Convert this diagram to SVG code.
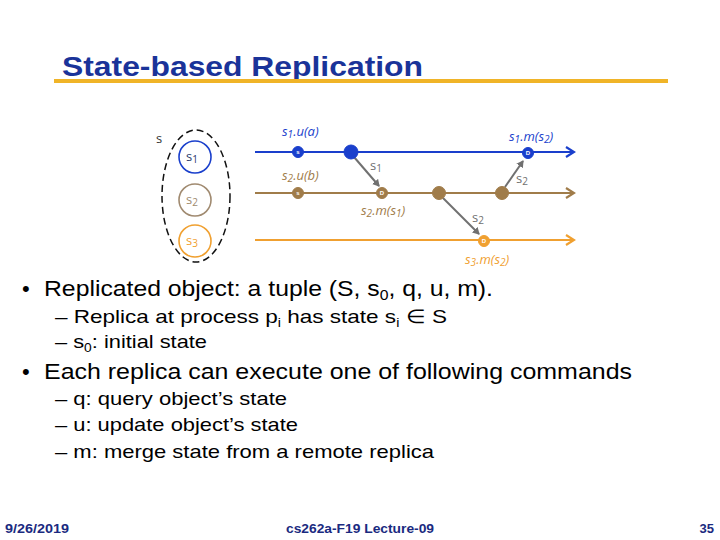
<svg xmlns="http://www.w3.org/2000/svg" width="720" height="540" viewBox="0 0 720 540">
<style>
.title{font-family:"Liberation Sans",Arial,sans-serif;font-weight:bold;font-size:28px;fill:#1a3399}
.b1{font-family:"Liberation Sans",Arial,sans-serif;font-size:22px;fill:#000}
.b2{font-family:"Liberation Sans",Arial,sans-serif;font-size:19px;fill:#000}
.foot{font-family:"Liberation Sans",Arial,sans-serif;font-weight:bold;font-size:13px;fill:#1a2a80}
.lbl{font-family:"Open Sans","Liberation Sans",sans-serif;font-style:italic;font-size:13px}
.st{font-family:"Open Sans","Liberation Sans",sans-serif;font-size:13px}
.tiny{font-family:"Liberation Sans",sans-serif;font-size:6px;font-weight:bold;fill:#fff;text-anchor:middle}
.blue{fill:#1a3fcc;stroke:#1a3fcc}
.brown{fill:#a07c4a;stroke:#a07c4a}
.orange{fill:#f0a030;stroke:#f0a030}
.line{stroke-width:2.2;fill:none}
.msg{stroke:#707070;stroke-width:2;fill:none;marker-end:url(#ag)}
</style>
<defs>
<marker id="ag" markerWidth="8" markerHeight="8" refX="6" refY="4" orient="auto" markerUnits="userSpaceOnUse"><path d="M0,0 L7,4 L0,8 z" fill="#707070"/></marker>
<marker id="ab" markerWidth="12" markerHeight="12" refX="10" refY="6" orient="auto" markerUnits="userSpaceOnUse"><path d="M2,1 L10,6 L2,11" fill="none" stroke="#1a3fcc" stroke-width="2.2"/></marker>
<marker id="abr" markerWidth="12" markerHeight="12" refX="10" refY="6" orient="auto" markerUnits="userSpaceOnUse"><path d="M2,1 L10,6 L2,11" fill="none" stroke="#a07c4a" stroke-width="2.2"/></marker>
<marker id="ao" markerWidth="12" markerHeight="12" refX="10" refY="6" orient="auto" markerUnits="userSpaceOnUse"><path d="M2,1 L10,6 L2,11" fill="none" stroke="#f0a030" stroke-width="2.2"/></marker>
</defs>
<rect width="720" height="540" fill="#fff"/>
<g id="title">
<text class="title" x="62" y="76" textLength="361" lengthAdjust="spacingAndGlyphs">State-based Replication</text>
<line x1="54" y1="81" x2="668" y2="81" stroke="#f0b428" stroke-width="4"/>
</g>
<g id="stateset">
<text class="st" x="156" y="143" fill="#333">s</text>
<ellipse cx="196" cy="196" rx="34" ry="66" fill="none" stroke="#111" stroke-width="1.5" stroke-dasharray="7,4"/>
<g id="s1"><circle cx="195" cy="157" r="16" fill="none" stroke="#1a3fcc" stroke-width="1.6"/><text class="st" x="186" y="161" fill="#2a3a6a">s<tspan font-size="10" dy="2">1</tspan></text></g>
<g id="s2"><circle cx="195" cy="200" r="16" fill="none" stroke="#a08a70" stroke-width="1.6"/><text class="st" x="186" y="204" fill="#a08a70">s<tspan font-size="10" dy="2">2</tspan></text></g>
<g id="s3"><circle cx="195" cy="241" r="16" fill="none" stroke="#f0a030" stroke-width="1.6"/><text class="st" x="186" y="245" fill="#f0a030">s<tspan font-size="10" dy="2">3</tspan></text></g>
</g>
<g id="timelines">
<line class="line blue" x1="255" y1="152" x2="574" y2="152" marker-end="url(#ab)"/>
<line class="line brown" x1="255" y1="193" x2="574" y2="193" marker-end="url(#abr)"/>
<line class="line orange" x1="255" y1="240" x2="574" y2="240" marker-end="url(#ao)"/>
</g>
<g id="connectors">
<line class="msg" x1="354" y1="157" x2="379" y2="186"/>
<line class="msg" x1="505" y1="187" x2="523" y2="161"/>
<line class="msg" x1="443" y1="198" x2="479" y2="234"/>
</g>
<g id="events">
<g id="e1"><circle class="blue" cx="298" cy="152" r="5.5"/><text class="tiny" x="298" y="154">s</text></g>
<g id="e2"><circle class="blue" cx="351" cy="152" r="7"/></g>
<g id="e3"><circle class="blue" cx="528" cy="153" r="5.5"/><text class="tiny" x="528" y="155">D</text></g>
<g id="e4"><circle class="brown" cx="298" cy="193" r="5.5"/><text class="tiny" x="298" y="195">s</text></g>
<g id="e5"><circle class="brown" cx="382" cy="193" r="5.5"/><text class="tiny" x="382" y="195">D</text></g>
<g id="e6"><circle class="brown" cx="439" cy="193" r="6.5"/></g>
<g id="e7"><circle class="brown" cx="502" cy="193" r="6.5"/></g>
<g id="e8"><circle class="orange" cx="484" cy="241" r="5.5"/><text class="tiny" x="484" y="243">D</text></g>
</g>
<g id="labels">
<text class="lbl" x="282" y="136" fill="#1a3fcc">s<tspan font-size="10" dy="2">1</tspan><tspan dy="-2">.u(a)</tspan></text>
<text class="lbl" x="509" y="141" fill="#1a3fcc">s<tspan font-size="10" dy="2">1</tspan><tspan dy="-2">.m(s</tspan><tspan font-size="10" dy="2">2</tspan><tspan dy="-2">)</tspan></text>
<text class="lbl" x="282" y="180" fill="#a07c4a">s<tspan font-size="10" dy="2">2</tspan><tspan dy="-2">.u(b)</tspan></text>
<text class="lbl" x="361" y="215" fill="#a07c4a">s<tspan font-size="10" dy="2">2</tspan><tspan dy="-2">.m(s</tspan><tspan font-size="10" dy="2">1</tspan><tspan dy="-2">)</tspan></text>
<text class="lbl" x="465" y="264" fill="#f0a030">s<tspan font-size="10" dy="2">3</tspan><tspan dy="-2">.m(s</tspan><tspan font-size="10" dy="2">2</tspan><tspan dy="-2">)</tspan></text>
<text class="st" x="370" y="170" fill="#707070">s<tspan font-size="10" dy="2">1</tspan></text>
<text class="st" x="516" y="183" fill="#707070">s<tspan font-size="10" dy="2">2</tspan></text>
<text class="st" x="472" y="222" fill="#707070">s<tspan font-size="10" dy="2">2</tspan></text>
</g>
<g id="bullets">
<text class="b1" x="22" y="296">•</text>
<text class="b1" x="44" y="296" textLength="449" lengthAdjust="spacingAndGlyphs">Replicated object: a tuple (S, s<tspan font-size="14" dy="4">0</tspan><tspan dy="-4">, q, u, m).</tspan></text>
<text class="b2" x="55" y="323" textLength="392" lengthAdjust="spacingAndGlyphs">– Replica at process p<tspan font-size="12" dy="4">i</tspan><tspan dy="-4">  has state s</tspan><tspan font-size="12" dy="4">i</tspan><tspan dy="-4"> ∈ S</tspan></text>
<text class="b2" x="55" y="348" textLength="152" lengthAdjust="spacingAndGlyphs">– s<tspan font-size="12" dy="4">0</tspan><tspan dy="-4">: initial state</tspan></text>
<text class="b1" x="22" y="379">•</text>
<text class="b1" x="44" y="379" textLength="588" lengthAdjust="spacingAndGlyphs">Each replica can execute one of following commands</text>
<text class="b2" x="55" y="405" textLength="232" lengthAdjust="spacingAndGlyphs">– q: query object’s state</text>
<text class="b2" x="55" y="431" textLength="243" lengthAdjust="spacingAndGlyphs">– u: update object’s state</text>
<text class="b2" x="55" y="458" textLength="379" lengthAdjust="spacingAndGlyphs">– m: merge state from a remote replica</text>
</g>
<g id="footer">
<text class="foot" x="5" y="533" textLength="64" lengthAdjust="spacingAndGlyphs">9/26/2019</text>
<text class="foot" x="286" y="533" textLength="148" lengthAdjust="spacingAndGlyphs">cs262a-F19 Lecture-09</text>
<text class="foot" x="714" y="533" text-anchor="end">35</text>
</g>
</svg>
